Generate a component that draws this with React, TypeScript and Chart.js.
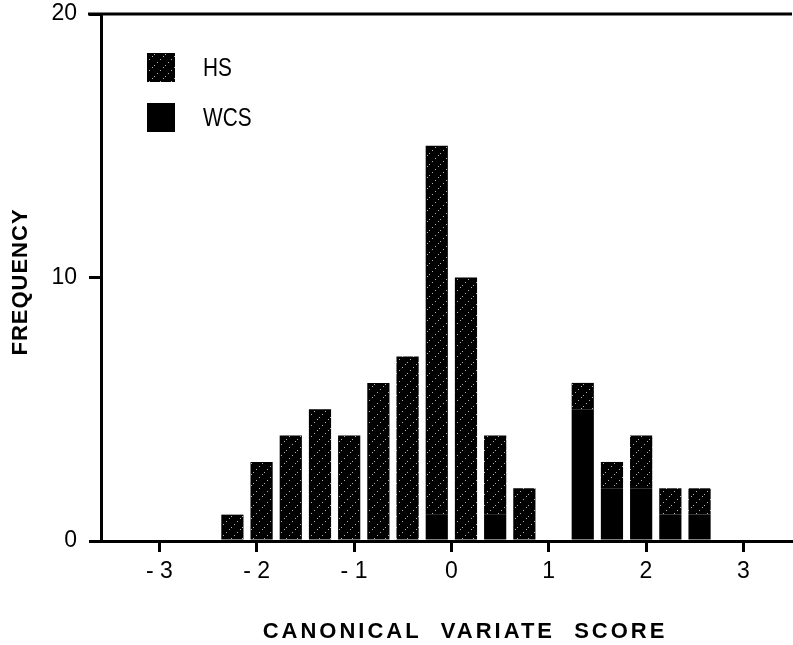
import React, { useEffect, useRef } from 'react';
import { Chart, registerables } from 'chart.js';
Chart.register(...registerables);

const binCenters = [-2.25, -1.95, -1.65, -1.35, -1.05, -0.75, -0.45, -0.15, 0.15, 0.45, 0.75, 1.05, 1.35, 1.65, 1.95, 2.25, 2.55];
const wcsCounts = [0, 0, 0, 0, 0, 0, 0, 1, 0, 1, 0, 0, 5, 2, 2, 1, 1];
const hsCounts = [1, 3, 4, 5, 4, 6, 7, 14, 10, 3, 2, 0, 1, 1, 2, 1, 1];
const xTickValues = [-3, -2, -1, 0, 1, 2, 3];
const yTickValues = [0, 10, 20];
const seriesNames = ['HS', 'WCS'];
const xTitle = 'CANONICAL VARIATE SCORE';
const yTitle = 'FREQUENCY';

function makeHatch(): CanvasPattern | string {
  const c = document.createElement('canvas');
  c.width = 11;
  c.height = 11;
  const g = c.getContext('2d');
  if (!g) return '#000';
  g.fillStyle = '#000';
  g.fillRect(0, 0, 11, 11);
  g.fillStyle = '#b4b4b4';
  for (const i of [0, 3, 6, 9]) g.fillRect(i, 10 - i, 1, 1);
  return g.createPattern(c, 'repeat') || '#000';
}

export default function App() {
  const ref = useRef<HTMLCanvasElement | null>(null);
  useEffect(() => {
    if (!ref.current) return;
    const hatch = makeHatch();
    const decor = {
      id: 'decor',
      afterDraw(chart: any) {
        const { ctx, chartArea, scales } = chart;
        const yTop = scales.y.getPixelForValue(yTickValues[yTickValues.length - 1]);
        ctx.save();
        ctx.strokeStyle = '#000';
        ctx.lineWidth = 3;
        ctx.beginPath();
        ctx.moveTo(chartArea.left - 13, yTop);
        ctx.lineTo(chartArea.right, yTop);
        ctx.stroke();

        // axis titles
        ctx.fillStyle = '#000';
        ctx.font = 'bold 22px "Liberation Sans", Arial, sans-serif';
        ctx.textAlign = 'center';
        ctx.textBaseline = 'middle';
        (ctx as any).letterSpacing = '3px';
        (ctx as any).wordSpacing = '10px';
        ctx.fillText(xTitle, 465, 632);
        ctx.save();
        ctx.translate(21, 282);
        ctx.rotate(-Math.PI / 2);
        (ctx as any).wordSpacing = '0px';
        (ctx as any).letterSpacing = '1px';
        ctx.fillText(yTitle, 0, 0);
        ctx.restore();
        (ctx as any).letterSpacing = '0px';
        (ctx as any).wordSpacing = '0px';

        // legend
        const items = [
          { name: seriesNames[0], fill: hatch, y: 53 },
          { name: seriesNames[1], fill: '#000', y: 103 },
        ];
        for (const it of items) {
          ctx.fillStyle = it.fill as any;
          ctx.fillRect(147, it.y, 28, 29);
          ctx.fillStyle = '#000';
          ctx.save();
          ctx.font = '26px "Liberation Sans", Arial, sans-serif';
          ctx.textAlign = 'left';
          ctx.textBaseline = 'middle';
          ctx.translate(203, it.y + 16);
          ctx.scale(0.8, 1);
          ctx.fillText(it.name, 0, 0);
          ctx.restore();
        }
        ctx.restore();
      },
    };
    const chart = new Chart(ref.current, {
      type: 'bar',
      data: {
        datasets: [
          {
            label: seriesNames[1],
            data: binCenters.map((x, i) => ({ x, y: wcsCounts[i] })),
            backgroundColor: '#000',
            stack: 's',
          },
          {
            label: seriesNames[0],
            data: binCenters.map((x, i) => ({ x, y: hsCounts[i] })),
            backgroundColor: hatch as any,
            stack: 's',
          },
        ],
      } as any,
      options: {
        animation: false,
        responsive: false,
        maintainAspectRatio: false,
        layout: { padding: { top: 14, right: 1, left: 0, bottom: 0 } },
        plugins: { legend: { display: false }, tooltip: { enabled: false } },
        datasets: { bar: { barPercentage: 0.76, categoryPercentage: 1, borderWidth: 0 } },
        scales: {
          x: {
            type: 'linear',
            stacked: true,
            offset: false,
            min: -3.6,
            max: 3.5,
            afterBuildTicks: (s: any) => {
              s.ticks = xTickValues.map((v) => ({ value: v }));
            },
            afterFit: (s: any) => {
              s.height = 104;
              s.paddingLeft = 0;
              s.paddingRight = 0;
            },
            ticks: {
              color: '#000',
              font: { family: '"Liberation Sans", Arial, sans-serif', size: 23 },
              padding: 6,
              maxRotation: 0,
              autoSkip: false,
              callback: (v: any) => (Number(v) < 0 ? '- ' + Math.abs(Number(v)) : String(v)),
            },
            grid: { offset: false, drawOnChartArea: false, drawTicks: true, tickLength: 11, color: '#000', lineWidth: 3 },
            border: { display: true, color: '#000', width: 3 },
          },
          y: {
            type: 'linear',
            stacked: true,
            min: 0,
            max: 20,
            afterBuildTicks: (s: any) => {
              s.ticks = yTickValues.map((v) => ({ value: v }));
            },
            afterFit: (s: any) => {
              s.width = 101;
              s.paddingTop = 0;
              s.paddingBottom = 0;
            },
            ticks: {
              color: '#000',
              font: { family: '"Liberation Sans", Arial, sans-serif', size: 23 },
              padding: 12,
            },
            grid: { drawOnChartArea: false, drawTicks: true, tickLength: 12, color: '#000', lineWidth: 3 },
            border: { display: true, color: '#000', width: 3 },
          },
        },
      } as any,
      plugins: [decor],
    });
    return () => chart.destroy();
  }, []);
  return (
    <div style={{ position: 'absolute', left: 0, top: 0, width: 793, height: 645, background: '#fff' }}>
      <canvas ref={ref} width={793} height={645} style={{ display: 'block' }} />
    </div>
  );
}
